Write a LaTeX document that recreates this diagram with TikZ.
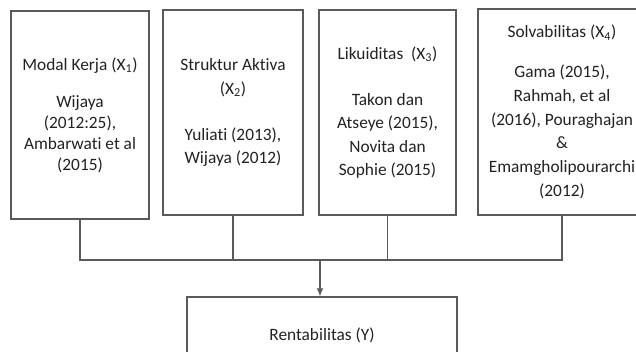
\documentclass[tikz,border=0pt]{standalone}
\usepackage{fontspec}
\setmainfont{Carlito}[Ligatures=NoCommon]
\usepackage{xcolor}
\usetikzlibrary{arrows.meta,positioning}
\definecolor{FrameGrey}{HTML}{5A5A5A}
\definecolor{InkDark}{HTML}{222222}

\begin{document}
\begin{tikzpicture}[
  x=0.75pt,y=-0.75pt,
  var/.style={draw=FrameGrey,line width=0.9pt,fill=white,align=center,inner sep=0pt,text=InkDark,font=\fontsize{13}{17.5}\selectfont},
  dep/.style={var,minimum width=202.5pt,minimum height=57pt},
  link/.style={draw=FrameGrey,line width=0.9pt},
  arrow/.style={link,-{Latex[length=6pt,width=5pt]}}
]
\clip (0,0) rectangle (636,352);
\fill[white] (0,0) rectangle (636,352);
\node[var,minimum width=103.5pt,minimum height=156pt,font=\fontsize{13}{15.8}\selectfont] (modal) at (80,115)
  {Modal Kerja (X\textsubscript{1})\\[12pt]Wijaya\\(2012:25),\\Ambarwati et al\\(2015)};
\node[var,minimum width=105pt,minimum height=153.75pt] (aktiva) at (233,112.5)
  {Struktur Aktiva\\(X\textsubscript{2})\\[17pt]Yuliati (2013),\\Wijaya (2012)};
\node[var,minimum width=102.75pt,minimum height=153.75pt] (likuid) at (387.5,112.5)
  {Likuiditas~ (X\textsubscript{3})\\[17pt]Takon dan\\Atseye (2015),\\Novita dan\\Sophie (2015)};
\node[var,minimum width=126pt,minimum height=154.5pt,font=\fontsize{13}{17.8}\selectfont] (solva) at (562,112)
  {Solvabilitas (X\textsubscript{4})\\[12pt]Gama (2015),\\Rahmah, et al\\(2016), Pouraghajan\\\&\\Emamgholipourarchi\\(2012)};
\node[dep] (renta) at (322,335) {Rentabilitas (Y)};
% bus between the four boxes and the dependent box
\coordinate (bus) at (320,260);
\draw[link] (modal.south) -- (modal.south |- bus) -- (solva.south |- bus) -- (solva.south);
\draw[link] (aktiva.south) -- (aktiva.south |- bus);
\draw[link] (likuid.south) -- (likuid.south |- bus);
\draw[arrow] (bus) -- (bus |- renta.north);
\end{tikzpicture}
\end{document}
